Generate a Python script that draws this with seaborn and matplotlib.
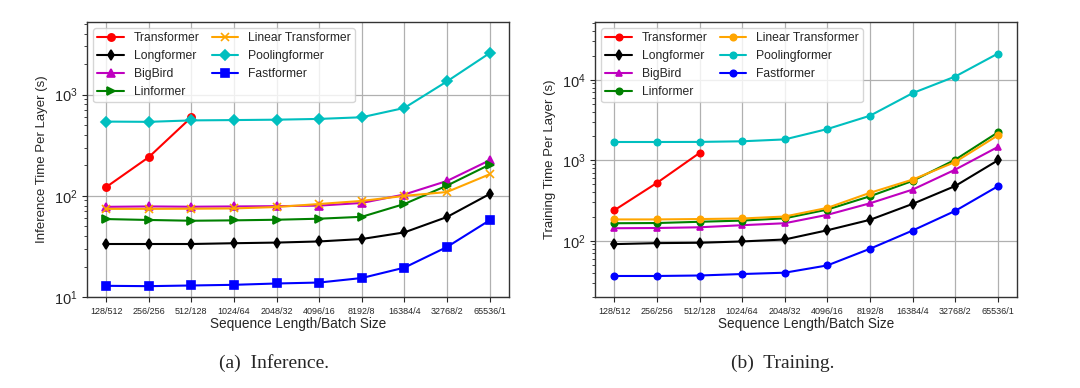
import matplotlib
matplotlib.use("Agg")
import matplotlib.pyplot as plt
import seaborn as sns
import pandas as pd
import numpy as np

seq_batch = ["128/512", "256/256", "512/128", "1024/64", "2048/32",
             "4096/16", "8192/8", "16384/4", "32768/2", "65536/1"]
models = ["Transformer", "Longformer", "BigBird", "Linformer",
          "Linear Transformer", "Poolingformer", "Fastformer"]

# Inference time per layer (s)
inf_transformer = [122, 241, 597]
inf_longformer = [33.4, 33.4, 33.4, 34.0, 34.5, 35.4, 37.4, 43.5, 61.7, 104]
inf_bigbird = [77.8, 78.5, 78.0, 78.5, 79.0, 80.0, 85.0, 103, 140, 224]
inf_linformer = [58.9, 57.7, 56.7, 57.2, 58.0, 59.4, 62.0, 83.0, 126, 203]
inf_linear = [74.3, 74.3, 74.5, 75.0, 77.5, 83.0, 89.0, 99.8, 109, 163]
inf_pooling = [541, 538, 556, 560, 565, 575, 597, 738, 1349, 2564]
inf_fast = [12.9, 12.8, 13.0, 13.2, 13.6, 13.9, 15.4, 19.5, 31.2, 57.2]

# Training time per layer (s)
tr_transformer = [239, 523, 1231]
tr_longformer = [90.8, 93.4, 94.4, 98.0, 103.7, 135, 182, 287, 479, 997]
tr_bigbird = [143, 144, 147, 156, 165, 210, 292, 432, 765, 1462]
tr_linformer = [165, 166, 172, 178, 190, 244, 357, 554, 1016, 2218]
tr_linear = [184, 184, 186, 189, 200, 256, 394, 575, 952, 2036]
tr_pooling = [1686, 1686, 1690, 1720, 1815, 2442, 3573, 6822, 10970, 21130]
tr_fast = [36.5, 36.5, 37.0, 38.6, 40.1, 49.4, 79.5, 134, 235, 475]

inference = [inf_transformer, inf_longformer, inf_bigbird, inf_linformer,
             inf_linear, inf_pooling, inf_fast]
training = [tr_transformer, tr_longformer, tr_bigbird, tr_linformer,
            tr_linear, tr_pooling, tr_fast]

colors = ["red", "black", "m", "green", "orange", "c", "blue"]
inf_markers = ["o", "d", "^", ">", "x", "D", "s"]
tr_markers = ["o", "d", "^", "o", "o", "o", "o"]


def to_frame(series):
    rows = []
    for name, vals in zip(models, series):
        for i, v in enumerate(vals):
            rows.append({"model": name, "pos": i, "time": v})
    return pd.DataFrame(rows)


sns.set_style("ticks")
plt.rcParams["font.family"] = ["Liberation Sans", "DejaVu Sans"]
plt.rcParams["mathtext.fontset"] = "dejavusans"

fig = plt.figure(figsize=(10.8, 3.88), dpi=100)
ax1 = fig.add_axes([0.0806, 0.2345, 0.3904, 0.7085])
ax2 = fig.add_axes([0.551, 0.2345, 0.3907, 0.7085])

# caption x positions (figure fraction), centred on each sub-figure
panels = [
    (ax1, to_frame(inference), inf_markers, 5.2, "Inference Time Per Layer (s)", (10, 5200), "(a)  Inference.", 0.254),
    (ax2, to_frame(training), tr_markers, 4.6, "Training Time Per Layer (s)", (20, 52000), "(b)  Training.", 0.725),
]

for ax, df, markers, ms, ylabel, ylim, caption, cx in panels:
    for name, col, mk in zip(models, colors, markers):
        sub = df[df["model"] == name]
        sns.lineplot(data=sub, x="pos", y="time", ax=ax, color=col,
                     marker=mk, markersize=ms, markeredgecolor=col,
                     markeredgewidth=1.2, linewidth=1.5, label=name)
    ax.set_yscale("log")
    ax.set_ylim(*ylim)
    ax.set_xlim(-0.45, 9.45)
    ax.set_xticks(range(len(seq_batch)))
    ax.set_xticklabels(seq_batch, fontsize=6.5)
    ax.tick_params(axis="y", labelsize=10.5)
    ax.grid(True, color="#b0b0b0", linewidth=0.9)
    ax.set_axisbelow(True)
    ax.set_xlabel("Sequence Length/Batch Size", fontsize=9.8, labelpad=1)
    ax.set_ylabel(ylabel, fontsize=9.5)
    for sp in ax.spines.values():
        sp.set_color("#333333")
        sp.set_linewidth(1.0)
    ax.legend(loc="upper left", ncol=2, fontsize=8.7, frameon=True,
              handlelength=2.2, columnspacing=1.0, labelspacing=0.48,
              borderpad=0.35, fancybox=True, framealpha=0.8, edgecolor="#cccccc")
    fig.text(cx, 0.064, caption, ha="center", va="center",
             fontsize=14, family=["Liberation Serif", "DejaVu Serif"])

fig.savefig("out.png", dpi=100)
